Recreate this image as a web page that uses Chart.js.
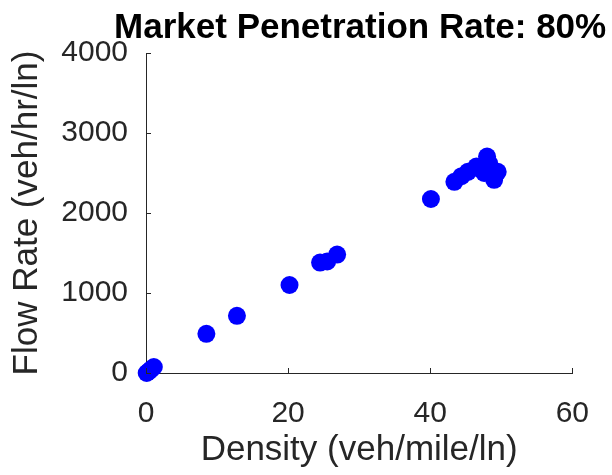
<!DOCTYPE html>
<html>
<head>
<meta charset="utf-8">
<script src="https://cdn.jsdelivr.net/npm/chart.js@4.4.1/dist/chart.umd.min.js"></script>
<style>
  html, body { margin: 0; padding: 0; background: #ffffff; }
  #wrap { width: 612px; height: 475px; }
</style>
</head>
<body>
<div id="wrap"><canvas id="c" width="612" height="475"></canvas></div>
<script>
const chartTitle = "Market Penetration Rate: 80%";
const xAxisTitle = "Density (veh/mile/ln)";
const yAxisTitle = "Flow Rate (veh/hr/ln)";
const density = [0.1, 0.4, 0.7, 1.1, 8.5, 12.8, 20.2, 24.5, 25.5, 26.9, 40.1, 43.4, 44.4, 45.3, 46.5, 47.0, 47.6, 48.0, 48.3, 49.0, 49.5];
const flowRate = [0, 20, 45, 75, 490, 715, 1100, 1380, 1395, 1480, 2175, 2390, 2460, 2515, 2580, 2550, 2500, 2705, 2620, 2415, 2515];
const xTickValues = [0, 20, 40, 60];
const yTickValues = [0, 1000, 2000, 3000, 4000];

const points = density.map((d, i) => ({ x: d, y: flowRate[i] }));

const axisColor = '#262626';
const fontFamily = '"Liberation Sans", Arial, Helvetica, sans-serif';

const inwardTicks = {
  id: 'inwardTicks',
  afterDatasetsDraw(chart) {
    const { ctx, chartArea, scales } = chart;
    const len = 5;
    ctx.save();
    ctx.strokeStyle = axisColor;
    ctx.lineWidth = 1;
    ctx.beginPath();
    xTickValues.forEach(v => {
      const px = Math.round(scales.x.getPixelForValue(v)) + 0.5;
      ctx.moveTo(px, chartArea.bottom);
      ctx.lineTo(px, chartArea.bottom - len);
    });
    yTickValues.forEach(v => {
      const py = Math.round(scales.y.getPixelForValue(v)) + 0.5;
      ctx.moveTo(chartArea.left, py);
      ctx.lineTo(chartArea.left + len, py);
    });
    ctx.stroke();
    ctx.restore();
  }
};

// Title centred over the plot area, as in the reference
const axesTitle = {
  id: 'axesTitle',
  afterDraw(chart) {
    const { ctx, chartArea } = chart;
    ctx.save();
    ctx.fillStyle = '#000000';
    ctx.font = 'bold 35px ' + fontFamily;
    ctx.textAlign = 'center';
    ctx.textBaseline = 'alphabetic';
    ctx.fillText(chartTitle, (chartArea.left + chartArea.right) / 2 + 1, chartArea.top - 15);
    ctx.restore();
  }
};

new Chart(document.getElementById('c'), {
  type: 'scatter',
  data: {
    datasets: [{
      data: points,
      backgroundColor: '#0000ff',
      borderColor: '#0000ff',
      borderWidth: 0,
      pointRadius: 9,
      pointHoverRadius: 9,
      clip: false
    }]
  },
  options: {
    responsive: false,
    animation: false,
    devicePixelRatio: 1,
    layout: { padding: { left: 0, right: 39, top: 53, bottom: 0 } },
    plugins: {
      legend: { display: false },
      tooltip: { enabled: false },
      title: { display: false }
    },
    scales: {
      x: {
        type: 'linear',
        min: 0, max: 60,
        afterBuildTicks(scale) { scale.ticks = xTickValues.map(v => ({ value: v })); },
        afterFit(scale) { scale.height = 102; },
        grid: { display: false, drawTicks: false },
        border: { display: true, color: axisColor, width: 1 },
        ticks: {
          color: '#262626',
          padding: 23,
          maxRotation: 0,
          callback: v => String(v),
          font: { family: fontFamily, size: 30 }
        },
        title: {
          display: true,
          text: xAxisTitle,
          color: '#262626',
          font: { family: fontFamily, size: 35 },
          padding: { top: 0, bottom: 4 }
        }
      },
      y: {
        type: 'linear',
        min: 0, max: 4000,
        afterBuildTicks(scale) { scale.ticks = yTickValues.map(v => ({ value: v })); },
        afterFit(scale) { scale.width = 146; },
        grid: { display: false, drawTicks: false },
        border: { display: true, color: axisColor, width: 1 },
        ticks: {
          color: '#262626',
          padding: 18,
          callback: v => String(v),
          font: { family: fontFamily, size: 30 }
        },
        title: {
          display: true,
          text: yAxisTitle,
          color: '#262626',
          font: { family: fontFamily, size: 35 },
          padding: { top: 6, bottom: 0 }
        }
      }
    }
  },
  plugins: [inwardTicks, axesTitle]
});
</script>
</body>
</html>
